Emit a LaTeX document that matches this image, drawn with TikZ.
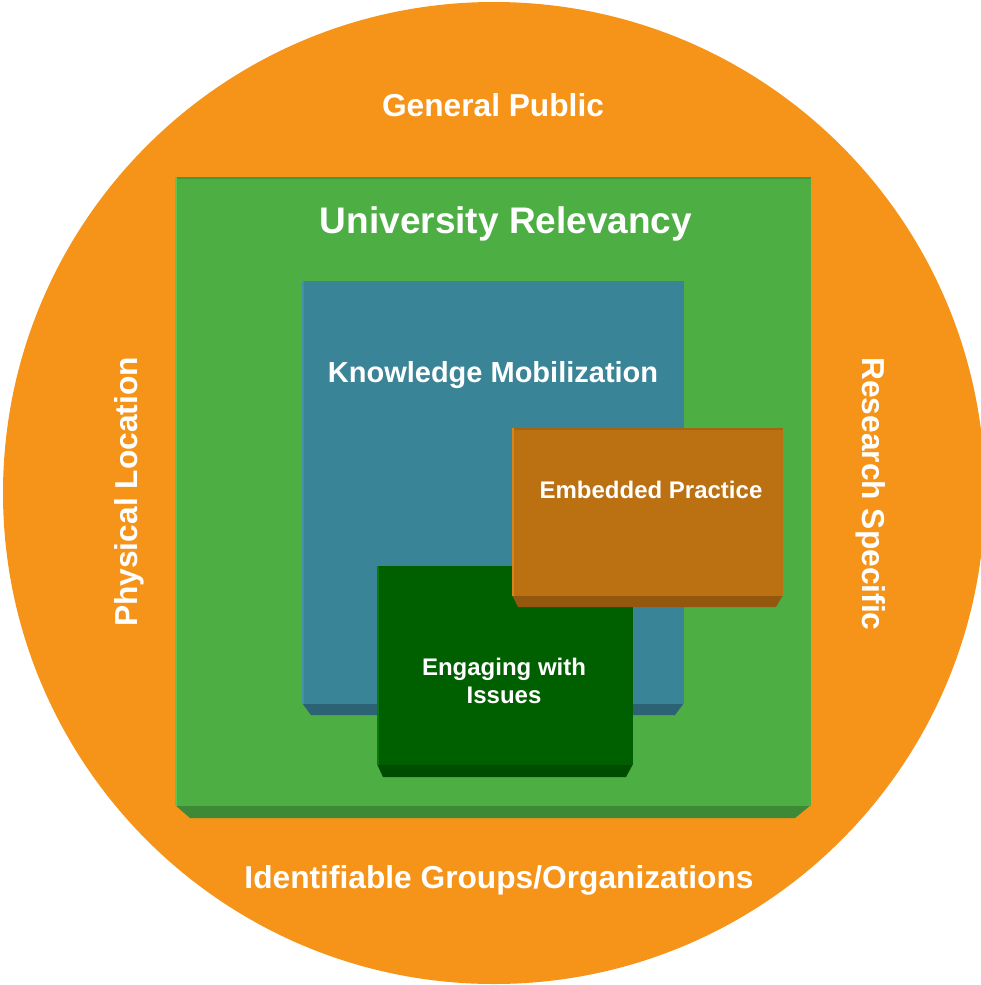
\documentclass[tikz,border=0pt]{standalone}
\usepackage{fontspec}
\setmainfont{Liberation Sans}
\definecolor{circorange}{HTML}{F6941A}
\definecolor{urgreen}{HTML}{4CAE43}
\definecolor{urgreenD}{HTML}{3D8935}
\definecolor{urgreenL}{HTML}{5CC450}
\definecolor{kmblue}{HTML}{3A8497}
\definecolor{kmblueD}{HTML}{2C6374}
\definecolor{kmblueL}{HTML}{4590A6}
\definecolor{eporange}{HTML}{BB7012}
\definecolor{eporangeD}{HTML}{93570E}
\definecolor{eporangeL}{HTML}{D8841A}
\definecolor{eigreen}{HTML}{006000}
\definecolor{eigreenD}{HTML}{004C00}
\definecolor{eigreenL}{HTML}{0A7A0A}
\tikzset{
  lbl/.style={text=white, font=\bfseries, inner sep=0pt, anchor=base},
  big/.style={lbl, font=\bfseries\fontsize{31.7}{37}\selectfont},
}
\begin{document}
\begin{tikzpicture}[x=1pt,y=-1pt]
\useasboundingbox (0,0) rectangle (981,985);
\begin{scope}
\clip (0,0) rectangle (981,985);
\fill[circorange] (494,493) circle[radius=491];
\end{scope}
% University Relevancy box
\fill[urgreenD] (175,805) -- (811,805) -- (795,818) -- (190,818) -- cycle;
\fill[urgreen] (175,177) rectangle (811,806);
\fill[urgreenD!60!urgreen] (175,177) rectangle (811,179);
\fill[urgreenL] (175,177) rectangle (177,806);
% Knowledge Mobilization box
\fill[kmblueD] (302,703) -- (684,703) -- (675,715) -- (311,715) -- cycle;
\fill[kmblue] (302,281) rectangle (684,704);
\fill[kmblueL] (302,281) rectangle (304,704);
% Engaging with Issues box
\fill[eigreenD] (377,764) -- (633,764) -- (626,777) -- (383,777) -- cycle;
\fill[eigreen] (377,566) rectangle (633,765);
\fill[eigreenL] (377,566) rectangle (379,765);
% Embedded Practice box
\fill[eporangeD] (512,595) -- (783,595) -- (776,607) -- (518,607) -- cycle;
\fill[eporange] (512,428) rectangle (783,596);
\fill[eporangeD!50!eporange] (512,428) rectangle (783,430);
\fill[eporangeL] (512,428) rectangle (514,596);
% Labels
\node[big] (gp) at (493,116) {General Public};
\node[lbl, font=\bfseries\fontsize{37}{44}\selectfont] (ur) at (506,233) {University Relevancy};
\node[lbl, font=\bfseries\fontsize{29}{35}\selectfont] (km) at (493,382) {Knowledge Mobilization};
\node[lbl, font=\bfseries\fontsize{24}{28}\selectfont] (ep) at (651,498) {Embedded Practice};
\node[lbl, font=\bfseries\fontsize{24}{28}\selectfont] (ei1) at (504,675) {Engaging with};
\node[lbl, font=\bfseries\fontsize{24}{28}\selectfont] (ei2) at (504,703) {Issues};
\node[big, rotate=90] (pl) at (137,492) {Physical Location};
\node[big, rotate=-90] (rs) at (862,494) {Research Specific};
\node[big] (ig) at (499,888) {Identifiable Groups/Organizations};
\end{tikzpicture}
\end{document}
